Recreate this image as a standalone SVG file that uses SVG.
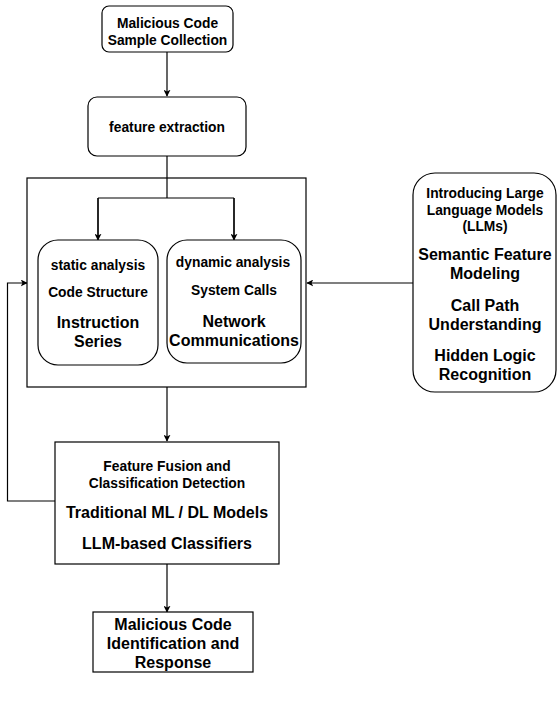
<svg xmlns="http://www.w3.org/2000/svg" width="560" height="703" viewBox="0 0 560 703">
<defs>
<marker id="arr" viewBox="0 0 10 10" refX="9" refY="5" markerWidth="7" markerHeight="7" markerUnits="userSpaceOnUse" orient="auto"><path d="M0,0 L10,5 L0,10 L2.5,5 Z" fill="#000"/></marker>
<style>
.box{fill:#fff;stroke:#000;stroke-width:1.2}
.t{font-family:"Liberation Sans",Arial,sans-serif;font-weight:bold;text-anchor:middle;fill:#000}
.s{font-size:13.8px}
.b{font-size:16px}
.c{fill:none;stroke:#000;stroke-width:1.2}
</style>
</defs>
<rect width="560" height="703" fill="#fff"/>
<g id="connectors">
<path class="c" d="M167,52 V96" marker-end="url(#arr)"/>
<path class="c" d="M167,156 V178"/>
<path class="c" d="M167,387 V441" marker-end="url(#arr)"/>
<path class="c" d="M167,564 V612" marker-end="url(#arr)"/>
<path class="c" d="M55,501 H7.5 V283 H27" marker-end="url(#arr)"/>
<path class="c" d="M413,283 H307" marker-end="url(#arr)"/>
</g>
<g id="n1">
<rect class="box" x="102" y="6" width="131" height="46" rx="7"/>
<text class="t s" x="167.5" y="28">Malicious Code</text>
<text class="t s" x="167.5" y="45">Sample Collection</text>
</g>
<g id="n2">
<rect class="box" x="88" y="97" width="158" height="59" rx="9"/>
<text class="t s" x="167" y="132">feature extraction</text>
</g>
<g id="container">
<rect class="box" x="27" y="178" width="279" height="209"/>
<path class="c" d="M167,178 V198 M98,198 H234 M98,198 V239 M234,198 V239"/>
<path class="c" d="M98,198 V240" marker-end="url(#arr)"/>
<path class="c" d="M234,198 V240" marker-end="url(#arr)"/>
</g>
<g id="static">
<rect class="box" x="38" y="240" width="120" height="125" rx="20"/>
<text class="t s" x="98" y="270">static analysis</text>
<text class="t s" x="98" y="297">Code Structure</text>
<text class="t b" x="98" y="328">Instruction</text>
<text class="t b" x="98" y="347">Series</text>
</g>
<g id="dynamic">
<rect class="box" x="167" y="240" width="134" height="123" rx="20"/>
<text class="t s" x="233" y="267">dynamic analysis</text>
<text class="t s" x="234" y="295">System Calls</text>
<text class="t b" x="234" y="327">Network</text>
<text class="t b" x="234" y="346">Communications</text>
</g>
<g id="llm">
<rect class="box" x="413" y="173" width="143" height="219" rx="22"/>
<text class="t s" x="485" y="198">Introducing Large</text>
<text class="t s" x="485" y="215">Language Models</text>
<text class="t s" x="485" y="231">(LLMs)</text>
<text class="t b" x="485" y="260">Semantic Feature</text>
<text class="t b" x="485" y="279">Modeling</text>
<text class="t b" x="485" y="311">Call Path</text>
<text class="t b" x="485" y="330">Understanding</text>
<text class="t b" x="485" y="361">Hidden Logic</text>
<text class="t b" x="485" y="380">Recognition</text>
</g>
<g id="fusion">
<rect class="box" x="55" y="442" width="224" height="122"/>
<text class="t s" x="167" y="471">Feature Fusion and</text>
<text class="t s" x="167" y="488">Classification Detection</text>
<text class="t b" x="167" y="518">Traditional ML / DL Models</text>
<text class="t b" x="167" y="549">LLM-based Classifiers</text>
</g>
<g id="result">
<rect class="box" x="93" y="612" width="160" height="60"/>
<text class="t b" x="173" y="630">Malicious Code</text>
<text class="t b" x="173" y="649">Identification and</text>
<text class="t b" x="173" y="668">Response</text>
</g>
</svg>
